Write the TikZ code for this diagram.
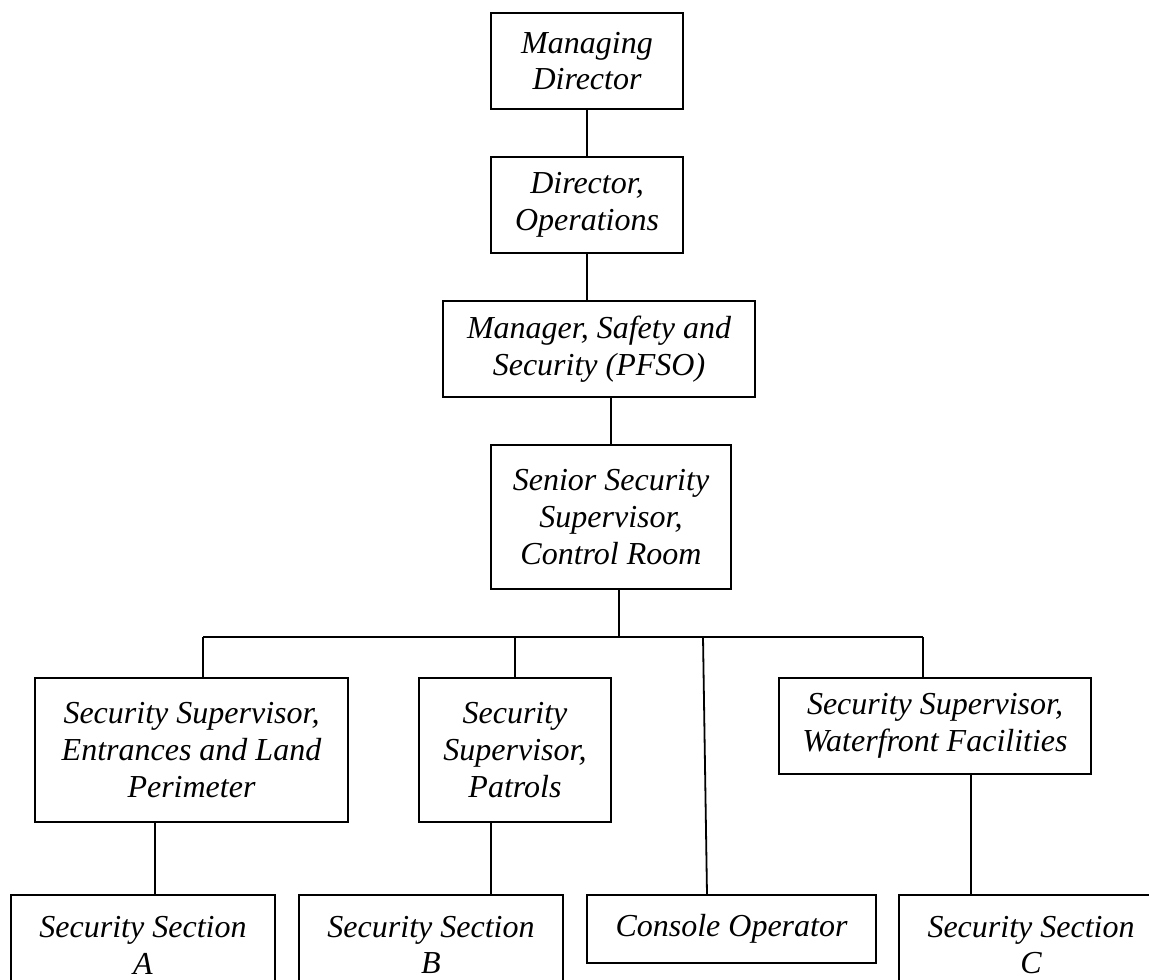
\documentclass[tikz,border=0pt]{standalone}
\usepackage{fontspec}
\setmainfont{Liberation Serif}
\tikzset{
  post/.style={draw, line width=0.9pt, inner sep=0pt, align=center,
    font=\fontsize{16}{18.4}\selectfont\itshape},
  wire/.style={line width=0.9pt}
}
\begin{document}
\begin{tikzpicture}[x=0.5pt, y=-0.5pt]
    \useasboundingbox (0,0) rectangle (1149,979);
    \clip (0,0) rectangle (1149,979);
    % chain of command
    \node[post, minimum width=96pt, minimum height=48pt] (md) at (587,61) {Managing\\Director};
    \node[post, minimum width=96pt, minimum height=48pt] (dops) at (587,205) {Director,\\Operations};
    \node[post, minimum width=156pt, minimum height=48pt] (mgr) at (599,349) {Manager, Safety and\\Security (PFSO)};
    \node[post, minimum width=120pt, minimum height=72pt] (ssup) at (611,517) {Senior Security\\Supervisor,\\Control Room};
    % supervisors
    \node[post, minimum width=156.5pt, minimum height=72pt] (supA) at (191.5,750) {Security Supervisor,\\Entrances and Land\\Perimeter};
    \node[post, minimum width=96pt, minimum height=72pt] (supB) at (515,750) {Security\\Supervisor,\\Patrols};
    \node[post, minimum width=156pt, minimum height=48pt] (supW) at (935,726) {Security Supervisor,\\Waterfront Facilities};
    % sections
    \node[post, minimum width=132pt, minimum height=50pt] (secA) at (143,945) {Security Section\\A};
    \node[post, minimum width=132pt, minimum height=50pt] (secB) at (431,945) {Security Section\\B};
    \node[post, minimum width=144.5pt, minimum height=34pt] (cons) at (731.5,929) {Console Operator};
    \node[post, minimum width=132pt, minimum height=50pt] (secC) at (1031,945) {Security Section\\C};
    % joints
    \coordinate (jS) at (619,637);
    \coordinate (jA) at (203,637);
    \coordinate (jB) at (515,637);
    \coordinate (jC) at (703,637);
    \coordinate (jW) at (923,637);
    \coordinate (dA) at (155,0);
    \coordinate (dB) at (491,0);
    \coordinate (dC) at (707,895);
    \coordinate (dW) at (971,0);
    \path[wire] (md) edge (dops);
    \path[wire] (dops.south) edge (dops.south |- mgr.north);
    \path[wire] (ssup.north) edge (ssup.north |- mgr.south);
    \path[wire] (jS |- ssup.south) edge (jS);
    \path[wire] (jA) edge (jW);
    \path[wire] (jA) edge (jA |- supA.north);
    \path[wire] (jB) edge (supB.north);
    \path[wire] (jW) edge (jW |- supW.north);
    \path[wire] (jC) edge (dC);
    \path[wire] (supA.south -| dA) edge (secA.north -| dA);
    \path[wire] (supB.south -| dB) edge (secB.north -| dB);
    \path[wire] (supW.south -| dW) edge (secC.north -| dW);
\end{tikzpicture}
\end{document}
